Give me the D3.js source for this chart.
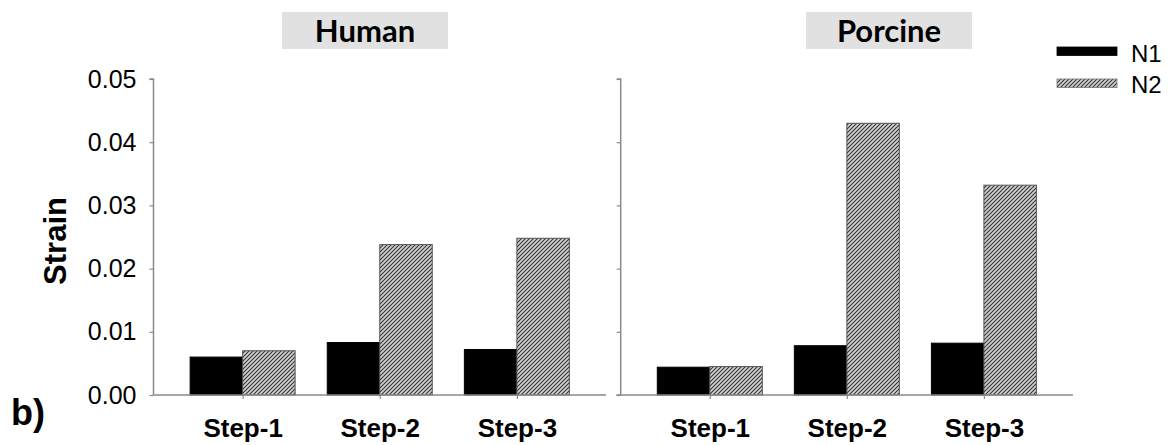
<!DOCTYPE html>
<html>
<head>
<meta charset="utf-8">
<script src="https://cdn.jsdelivr.net/npm/d3@7"></script>
<style>
  html, body { margin: 0; padding: 0; background: #fff; }
  svg { display: block; }
</style>
</head>
<body>
<svg id="chart" width="1168" height="445"></svg>
<script>
// Strain per loading step, two specimen groups, two measures (N1, N2)
const steps = ["Step-1", "Step-2", "Step-3"];
const series = ["N1", "N2"];
const panels = ["Human", "Porcine"];
const humanN1 = [0.0060, 0.0083, 0.0072];
const humanN2 = [0.0070, 0.0238, 0.0248];
const porcineN1 = [0.0044, 0.0078, 0.0082];
const porcineN2 = [0.0045, 0.0430, 0.0332];
const yTicks = [0, 0.01, 0.02, 0.03, 0.04, 0.05];

const panelData = [
  { name: panels[0], N1: humanN1, N2: humanN2 },
  { name: panels[1], N1: porcineN1, N2: porcineN2 }
];

const svg = d3.select("#chart");
const defs = svg.append("defs");

// diagonal hatch used for the N2 bars
const hatch = defs.append("pattern")
  .attr("id", "hatch")
  .attr("patternUnits", "userSpaceOnUse")
  .attr("width", 4).attr("height", 4);
hatch.append("rect").attr("width", 4).attr("height", 4).attr("fill", "#d2d2d2");
hatch.append("path")
  .attr("d", "M-1,1 l2,-2 M0,4 l4,-4 M3,5 l2,-2")
  .attr("stroke", "#333").attr("stroke-width", 1.1);

const fills = { N1: "#000", N2: "url(#hatch)" };

const y = d3.scaleLinear().domain([0, 0.05]).range([395, 79]);

const layouts = [
  { x0: 153.5, x1: 606, labels: true, titleX: [282, 448] },
  { x0: 620.7, x1: 1073, labels: false, titleX: [806, 972] }
];

const barW = 52.5;
const sub = d3.scaleBand().domain(series).range([-barW, barW]).padding(0);

panelData.forEach((p, i) => {
  const L = layouts[i];
  const x = d3.scalePoint().domain(steps).range([L.x0, L.x1]).padding(0.65);
  const g = svg.append("g");

  // panel title on a grey band
  g.append("rect")
    .attr("x", L.titleX[0]).attr("y", 12)
    .attr("width", L.titleX[1] - L.titleX[0]).attr("height", 37)
    .attr("fill", "#e1e1e1");
  g.append("text")
    .attr("x", (L.titleX[0] + L.titleX[1]) / 2).attr("y", 42)
    .attr("text-anchor", "middle")
    .attr("font-family", "Lato, 'Open Sans', sans-serif")
    .attr("font-weight", "bold").attr("font-size", 31)
    .attr("fill", "#000")
    .text(p.name);

  // bars
  steps.forEach((s, k) => {
    series.forEach(sr => {
      const v = p[sr][k];
      g.append("rect")
        .attr("x", x(s) + sub(sr))
        .attr("y", y(v))
        .attr("width", sub.bandwidth())
        .attr("height", y(0) - y(v))
        .attr("fill", fills[sr])
        .attr("stroke", sr === "N2" ? "#555" : "#000")
        .attr("stroke-width", 1);
    });
  });

  // y axis
  const yAxis = d3.axisLeft(y).tickValues(yTicks).tickSize(4).tickPadding(13)
    .tickFormat(L.labels ? d3.format(".2f") : () => "");
  const ya = g.append("g").attr("transform", `translate(${L.x0},0)`).call(yAxis);
  ya.select(".domain").attr("stroke", "#8a8a8a").attr("stroke-width", 1.5)
    .attr("d", `M-4,${y(0.05)}H0V${y(0)}`);
  ya.selectAll(".tick line").attr("stroke", "#8a8a8a").attr("stroke-width", 1.2);
  ya.selectAll(".tick text")
    .attr("font-family", "'Liberation Sans', Arial, sans-serif")
    .attr("font-size", 25).attr("fill", "#000");

  // x axis
  const xAxis = d3.axisBottom(x).tickSize(4).tickPadding(20);
  const xa = g.append("g").attr("transform", `translate(0,${y(0)})`).call(xAxis);
  xa.select(".domain").attr("stroke", "#8a8a8a").attr("stroke-width", 1.5)
    .attr("d", `M${L.x0 - (i === 1 ? 4.5 : 0)},0H${L.x1}`);
  xa.selectAll(".tick line").attr("stroke", "#8a8a8a").attr("stroke-width", 1.2);
  xa.selectAll(".tick text")
    .attr("font-family", "'Liberation Sans', Arial, sans-serif")
    .attr("font-weight", "bold").attr("font-size", 26).attr("fill", "#000")
    .attr("dy", "0.71em");
});

// y axis title
svg.append("text")
  .attr("transform", "translate(66,241) rotate(-90)")
  .attr("text-anchor", "middle")
  .attr("font-family", "'Liberation Sans', Arial, sans-serif")
  .attr("font-weight", "bold").attr("font-size", 31)
  .text("Strain");

// panel letter
svg.append("text")
  .attr("x", 11).attr("y", 425)
  .attr("font-family", "'Liberation Sans', Arial, sans-serif")
  .attr("font-weight", "bold").attr("font-size", 36)
  .text("b)");

// legend
const legend = svg.append("g");
const legendRows = [
  { key: series[0], y: 47, h: 8.5, base: 62 },
  { key: series[1], y: 79, h: 8.5, base: 93 }
];
legendRows.forEach(r => {
  legend.append("rect")
    .attr("x", 1057).attr("y", r.y).attr("width", 60).attr("height", r.h)
    .attr("fill", fills[r.key])
    .attr("stroke", r.key === "N2" ? "#777" : "#000").attr("stroke-width", 0.8);
  legend.append("text")
    .attr("x", 1131).attr("y", r.base)
    .attr("font-family", "'Liberation Sans', Arial, sans-serif")
    .attr("font-size", 24).attr("fill", "#000")
    .text(r.key);
});
</script>
</body>
</html>
